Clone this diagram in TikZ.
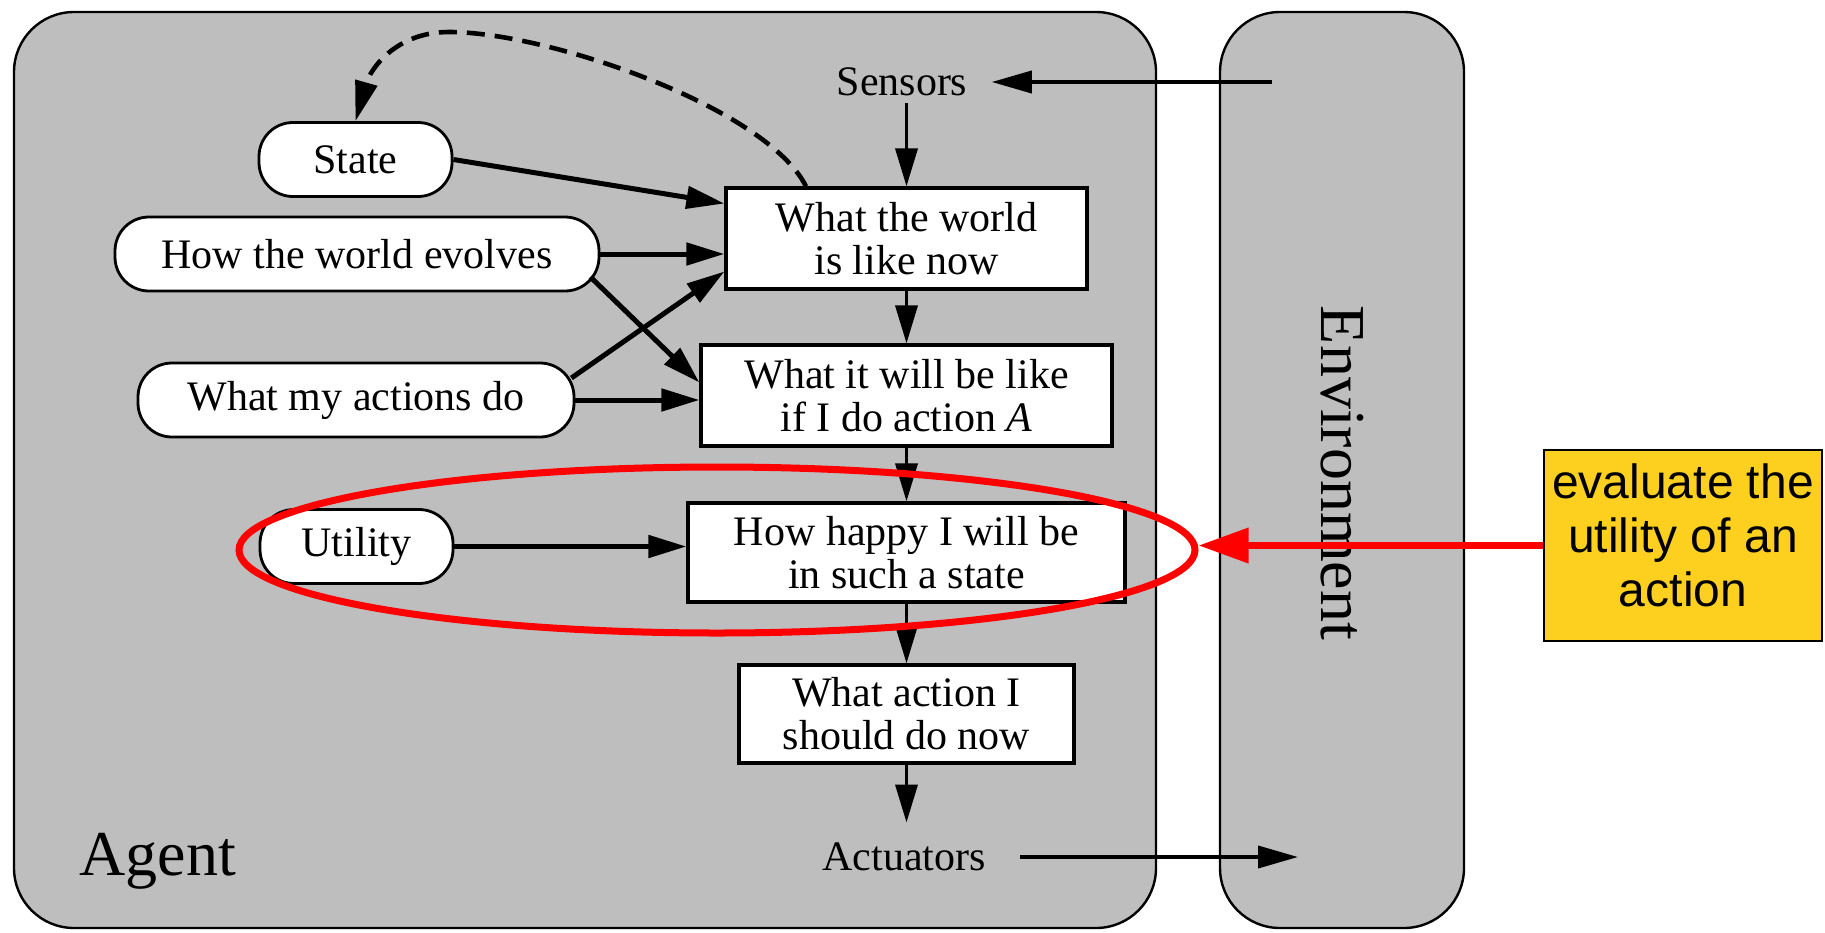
\documentclass[tikz,border=0pt]{standalone}
\usepackage{fontspec}
\setmainfont{Liberation Serif}
\newfontfamily\arialf{Liberation Sans}
\usetikzlibrary{arrows.meta,calc,shapes.geometric}
\definecolor{agentgray}{RGB}{190,190,190}
\definecolor{noteyellow}{RGB}{253,208,32}
\begin{document}
\begin{tikzpicture}[x=0.5pt,y=-0.5pt,
  panel/.style={draw=black,line width=1.2pt,fill=agentgray,rounded corners=30pt},
  know/.style={draw=black,line width=1.4pt,fill=white,rounded corners=17pt,minimum height=37pt,inner sep=2pt,font=\fontsize{21}{21.5}\selectfont},
  stepbox/.style={draw=black,line width=1.6pt,fill=white,align=center,inner sep=2pt,font=\fontsize{21}{21.5}\selectfont},
  lbl/.style={font=\fontsize{21}{21.5}\selectfont,inner sep=3pt},
  bigtxt/.style={font=\fontsize{32}{34}\selectfont},
  sidearr/.style={line width=2.5pt,-{Triangle[length=19pt,width=11pt]}},
  vertarr/.style={line width=1.8pt,-{Triangle[length=19pt,width=11pt]}},
  envarr/.style={line width=1.9pt,-{Triangle[length=20pt,width=11pt]}},
  dasharr/.style={line width=2.3pt,dash pattern=on 9pt off 5pt,-{Triangle[length=20pt,width=11pt]}},
  redarr/.style={draw=red,line width=3.5pt,-{Triangle[length=25pt,width=17pt]}},
]
\useasboundingbox (0,0) rectangle (1825,932);
% panels
\path[panel] (14,12) rectangle (1156,928);
\path[panel] (1220,12) rectangle (1464,928);
\node[bigtxt,rotate=-90] (env) at (1342,473) {Environment};
\node[bigtxt,anchor=base west,inner sep=0pt] (agent) at (79,875) {Agent};

% knowledge nodes
\node[know,minimum width=96.5pt] (state) at (355.5,159.5) {State};
\node[know,minimum width=242pt] (evolves) at (357,254) {How the world evolves};
\node[know,minimum width=218pt] (actions) at (356,400) {What my actions do};
\node[know,minimum width=96.5pt] (utility) at (356.5,546.5) {Utility};

% process boxes
\node[stepbox,minimum width=180.5pt,minimum height=50.5pt] (box1) at (906.5,238.5) {What the world\\is like now};
\node[stepbox,minimum width=205.5pt,minimum height=50.5pt] (box2) at (906.5,395.5) {What it will be like\\if I do action \textit{A}};
\node[stepbox,minimum width=218.5pt,minimum height=49.5pt] (box3) at (906.5,552.5) {How happy I will be\\in such a state};
\node[stepbox,minimum width=167.5pt,minimum height=49pt] (box4) at (906.5,714) {What action I\\should do now};

\node[lbl] (sensors) at (902,82) {Sensors};
\node[lbl] (actuators) at (904,857) {Actuators};

\coordinate (sin) at (1272,82);
\coordinate (aout) at (1298,857);
\coordinate (peak) at (449,32);

% chain
\draw[vertarr] (box1.north |- sensors.south) -- (box1.north);
\draw[vertarr] (box1.south) -- (box2.north);
\draw[vertarr] (box2.south) -- (box3.north);
\draw[vertarr] (box3.south) -- (box4.north);
\draw[vertarr,shorten >=7pt] (box4.south) -- (box4.south |- actuators.north);

% environment links
\draw[envarr,shorten >=9pt] (sin) -- (sensors.east);
\draw[envarr,shorten <=14pt] (actuators.east) -- (aout);

% side arrows
\draw[sidearr] (state.east) -- ($(box1.west)+(0,-35)$);
\draw[sidearr] (evolves.east) -- (evolves.east -| box1.west);
\draw[sidearr] ($(evolves.east)+(-10,23)$) -- ($(box2.west)+(0,-13)$);
\draw[sidearr] ($(actions.east)+(-4,-22)$) -- ($(box1.west)+(0,33)$);
\draw[sidearr] (actions.east) -- (actions.east -| box2.west);
\draw[sidearr] (utility.east) -- (utility.east -| box3.west);

% dashed feedback
\draw[dasharr] ($(box1.north west)!0.224!(box1.north east)$) .. controls (767,108) and (549,32) .. (peak) .. controls (395,32) and (370,70) .. (state.north);

% highlight
\node[draw=red,line width=3.5pt,ellipse,minimum width=478pt,minimum height=83pt,inner sep=0pt] (hl) at (717,550) {};
\node[draw=black,line width=0.6pt,fill=noteyellow,minimum width=139pt,minimum height=95.5pt,align=center,inner sep=0pt,font=\arialf\fontsize{24}{27}\selectfont] (note) at (1683,545.5) {evaluate the\\utility of an\\action\rule[-10pt]{0pt}{10pt}};
\draw[redarr] (note.west) -- (note.west -| hl.east);
\end{tikzpicture}
\end{document}
